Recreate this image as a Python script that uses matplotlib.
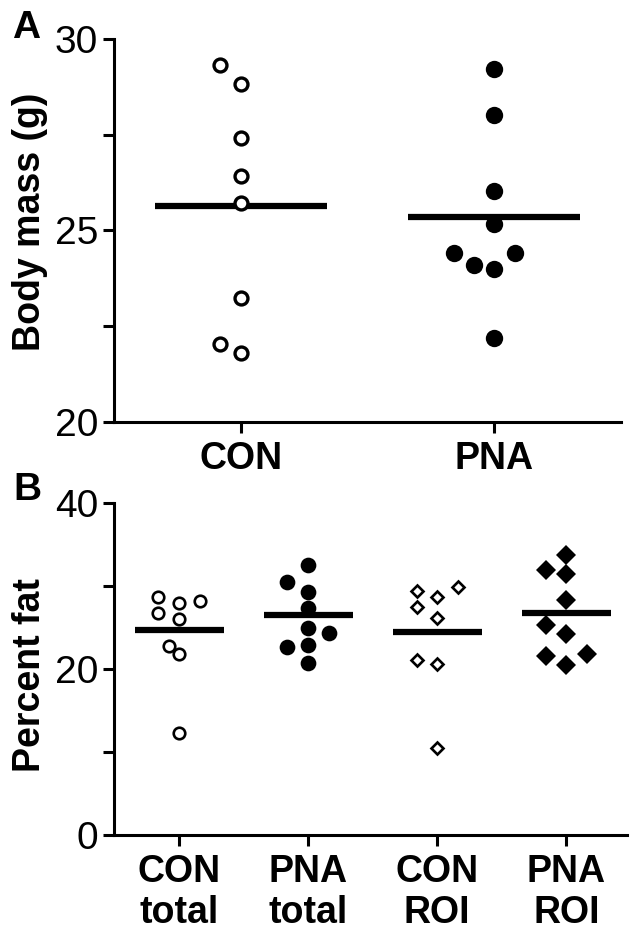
import numpy as np
import matplotlib.pyplot as plt

plt.rcParams['font.family'] = ['Liberation Sans', 'DejaVu Sans']

# panel A: body mass (g)
groups_a = ['CON', 'PNA']
con_mass = [29.33, 28.83, 27.42, 26.42, 25.72, 23.23, 22.03, 21.81]
pna_mass = [29.22, 28.01, 26.03, 25.18, 24.42, 24.42, 24.10, 24.00, 22.20]
mass_means = [25.65, 25.35]

# panel B: percent fat
groups_b = ['CON\ntotal', 'PNA\ntotal', 'CON\nROI', 'PNA\nROI']
con_total = [28.67, 28.19, 27.95, 26.75, 25.95, 22.74, 21.78, 12.31]
pna_total = [32.49, 30.41, 29.28, 27.28, 24.87, 24.35, 22.86, 22.59, 20.74]
con_roi = [29.80, 29.40, 28.67, 27.48, 26.07, 21.06, 20.58, 10.43]
pna_roi = [33.69, 31.89, 31.41, 28.28, 25.27, 24.19, 21.78, 21.54, 20.46]
fat_means = [24.67, 26.47, 24.47, 26.75]


def swarm(ax, x0, vals, step, dmin):
    # spread overlapping points sideways (pixel distance check)
    vals = np.asarray(vals, float)
    xs = np.full(len(vals), float(x0))
    placed = []
    for i in np.argsort(vals):
        for k in [0, -1, 1, -2, 2, -3, 3, -4, 4]:
            x = x0 + k * step
            p = ax.transData.transform((x, vals[i]))
            if all(np.hypot(*(p - q)) >= dmin for q in placed):
                break
        placed.append(p)
        xs[i] = x
    return xs


def style_axes(ax):
    for s in ['top', 'right']:
        ax.spines[s].set_visible(False)
    for s in ['left', 'bottom']:
        ax.spines[s].set_linewidth(2.2)
    ax.tick_params(axis='both', length=7.9, width=2.2, color='black')
    ax.tick_params(axis='y', labelsize=28, pad=3.6)
    ax.tick_params(axis='x', labelsize=27, pad=5.5)
    for lab in ax.get_xticklabels():
        lab.set_fontweight('bold')


fig = plt.figure(figsize=(6.35, 9.36), dpi=100)
W, H = 635, 936

# ---- A ----
ax1 = fig.add_axes([114 / W, 1 - 422 / H, (621 - 114) / W, (422 - 39) / H])
ax1.set_xlim(-0.5, 1.5)
ax1.set_ylim(20, 30)
ax1.set_xticks(range(len(groups_a)))
ax1.set_xticklabels(groups_a)
ax1.set_yticks([20, 22.5, 25, 27.5, 30])
ax1.set_yticklabels(['20', '', '25', '', '30'])
style_axes(ax1)

ax1.hlines(mass_means, np.arange(2) - 0.34, np.arange(2) + 0.34,
           colors='black', lw=4.5, zorder=2)
x = swarm(ax1, 0, con_mass, 0.08, 20)
ax1.plot(x, con_mass, ls='none', marker='o', ms=9.3, mew=2.4,
         mfc='white', mec='black', zorder=3)
x = swarm(ax1, 1, pna_mass, 0.08, 20)
ax1.plot(x, pna_mass, ls='none', marker='o', ms=12.5, mew=0,
         mfc='black', zorder=3)
ax1.set_ylabel('Body mass (g)', fontsize=27, fontweight='bold')
ax1.yaxis.set_label_coords(-0.13, 0.522)

# ---- B ----
ax2 = fig.add_axes([114 / W, 1 - 835 / H, (627 - 114) / W, (835 - 502.7) / H])
ax2.set_xlim(-0.504, 3.47)
ax2.set_ylim(0, 40)
ax2.set_xticks(range(len(groups_b)))
ax2.set_xticklabels(groups_b)
ax2.set_yticks([0, 10, 20, 30, 40])
ax2.set_yticklabels(['0', '', '20', '', '40'])
style_axes(ax2)

ax2.hlines(fat_means, np.arange(4) - 0.345, np.arange(4) + 0.345,
           colors='black', lw=4.5, zorder=2)
x = swarm(ax2, 0, con_total, 0.08, 13)
ax2.plot(x, con_total, ls='none', marker='o', ms=8.3, mew=1.9,
         mfc='white', mec='black', zorder=3)
x = swarm(ax2, 1, pna_total, 0.16, 16)
ax2.plot(x, pna_total, ls='none', marker='o', ms=11.3, mew=0,
         mfc='black', zorder=3)
x = swarm(ax2, 2, con_roi, 0.16, 14)
ax2.plot(x, con_roi, ls='none', marker='D', ms=6.5, mew=1.9,
         mfc='white', mec='black', zorder=3)
x = swarm(ax2, 3, pna_roi, 0.16, 18)
ax2.plot(x, pna_roi, ls='none', marker='D', ms=10.5, mew=0,
         mfc='black', zorder=3)
ax2.set_ylabel('Percent fat', fontsize=27, fontweight='bold')
ax2.yaxis.set_label_coords(-0.129, 0.48)

fig.text(12 / W, 1 - 38 / H, 'A', fontsize=28, fontweight='bold', va='baseline')
fig.text(13 / W, 1 - 500 / H, 'B', fontsize=28, fontweight='bold', va='baseline')

fig.savefig('out.png', dpi=100)
